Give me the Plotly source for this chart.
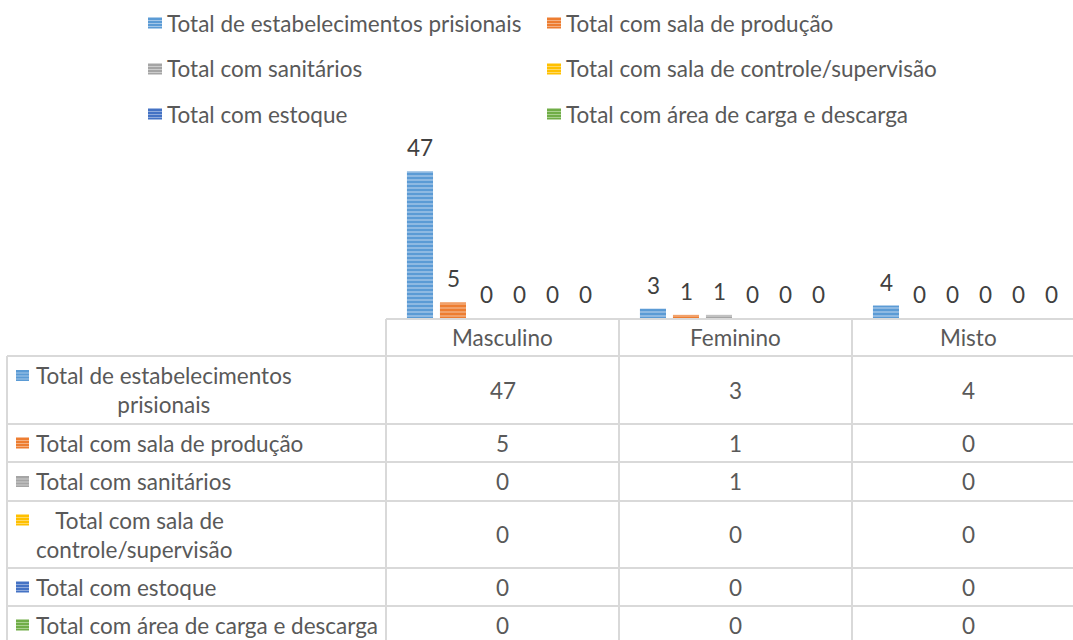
import plotly.graph_objects as go

# ---------------- data ----------------
categories = ["Masculino", "Feminino", "Misto"]
series_names = [
    "Total de estabelecimentos prisionais",
    "Total com sala de produção",
    "Total com sanitários",
    "Total com sala de controle/supervisão",
    "Total com estoque",
    "Total com área de carga e descarga",
]
table_labels = [
    "Total de estabelecimentos<br>prisionais",
    "Total com sala de produção",
    "Total com sanitários",
    "  Total com sala de<br>controle/supervisão",
    "Total com estoque",
    "Total com área de carga e descarga",
]
v_estabelecimentos = [47, 3, 4]
v_producao = [5, 1, 0]
v_sanitarios = [0, 1, 0]
v_controle = [0, 0, 0]
v_estoque = [0, 0, 0]
v_carga = [0, 0, 0]
series_values = [v_estabelecimentos, v_producao, v_sanitarios, v_controle, v_estoque, v_carga]

base_colors = ["#5B9BD5", "#ED7D31", "#A5A5A5", "#FFC000", "#4472C4", "#70AD47"]
light_colors = ["#A4C7E8", "#F4B183", "#CDCDCD", "#FFD966", "#8FAADC", "#A9D18E"]

# ---------------- layout geometry (screen pixels) ----------------
W, H = 1073, 640
PL, PR = 386, 1073          # plot area left/right
PT, PB = 162, 318           # plot area top/bottom
CAT_W = 233
PW, PH = PR - PL, PB - PT
FONT = "Lato"
TXT = "#595959"
NUM = "#404040"
GRID = "#D9D9D9"
FS = 22.5


def px(xp):
    return (xp - PL) / PW


def py(yp):
    return (PB - yp) / PH


fig = go.Figure()
for i, (name, vals) in enumerate(zip(series_names, series_values)):
    fig.add_trace(go.Bar(
        name=name, x=categories, y=vals,
        marker=dict(
            color=base_colors[i], line=dict(width=0),
            pattern=dict(shape="-", fillmode="replace", bgcolor=base_colors[i],
                         fgcolor=light_colors[i], size=4, solidity=0.35),
        ),
        showlegend=False, hoverinfo="skip",
    ))

annotations = []
shapes = []

# value labels above bars
step = 33
for i, vals in enumerate(series_values):
    for c, v in zip(categories, vals):
        annotations.append(dict(
            x=c, y=v, xref="x", yref="y", text=str(v), showarrow=False,
            xshift=(i - 2.5) * step, yshift=8, yanchor="bottom",
            font=dict(family=FONT, size=FS, color=NUM),
        ))

# ---------------- legend (manual, 2 columns) ----------------
leg_cols_x = [148, 547]
leg_rows_y = [23, 69, 114]
for i, name in enumerate(series_names):
    col, row = i % 2, i // 2
    x0, yc = leg_cols_x[col], leg_rows_y[row]
    shapes.append(dict(type="rect", xref="paper", yref="paper",
                       x0=px(x0), x1=px(x0 + 14), y0=py(yc + 5.5), y1=py(yc - 5.5),
                       fillcolor=base_colors[i], line=dict(width=0)))
    for k in (-2.5, 0.5, 3.5):
        shapes.append(dict(type="line", xref="paper", yref="paper",
                           x0=px(x0), x1=px(x0 + 14), y0=py(yc + k), y1=py(yc + k),
                           line=dict(color=light_colors[i], width=1)))
    annotations.append(dict(
        x=px(x0 + 17), y=py(yc), xref="paper", yref="paper", text=name,
        showarrow=False, xanchor="left", yanchor="middle",
        font=dict(family=FONT, size=FS, color=TXT),
    ))

# ---------------- data table ----------------
TL = 7
header_top, header_bot = 319, 356
row_lines = [356, 424, 462, 501, 568, 606, 644]
col_lines = [PL + k * CAT_W for k in range(3)]

shapes.append(dict(type="line", xref="paper", yref="paper", x0=px(PL), x1=px(PR),
                    y0=py(header_top), y1=py(header_top), line=dict(color=GRID, width=2)))
for yl in row_lines:
    shapes.append(dict(type="line", xref="paper", yref="paper", x0=px(TL), x1=px(PR),
                       y0=py(yl), y1=py(yl), line=dict(color=GRID, width=2)))
shapes.append(dict(type="line", xref="paper", yref="paper", x0=px(TL), x1=px(TL),
                   y0=py(header_bot), y1=py(H + 5), line=dict(color=GRID, width=2)))
for xl in col_lines:
    shapes.append(dict(type="line", xref="paper", yref="paper", x0=px(xl), x1=px(xl),
                       y0=py(header_top), y1=py(H + 5), line=dict(color=GRID, width=2)))

# header category names
for c in categories:
    annotations.append(dict(
        x=c, y=py((header_top + header_bot) / 2), xref="x", yref="paper", text=c,
        showarrow=False, yanchor="middle",
        font=dict(family=FONT, size=FS, color=TXT),
    ))

# rows
for i, (lab, vals) in enumerate(zip(table_labels, series_values)):
    y0, y1 = row_lines[i], row_lines[i + 1]
    yc = (y0 + y1) / 2
    two = "<br>" in lab
    icon_y = yc - 14.5 if two else yc
    shapes.append(dict(type="rect", xref="paper", yref="paper",
                       x0=px(16), x1=px(29), y0=py(icon_y + 5.5), y1=py(icon_y - 5.5),
                       fillcolor=base_colors[i], line=dict(width=0)))
    for k in (-2.5, 0.5, 3.5):
        shapes.append(dict(type="line", xref="paper", yref="paper",
                           x0=px(16), x1=px(29), y0=py(icon_y + k), y1=py(icon_y + k),
                           line=dict(color=light_colors[i], width=1)))
    annotations.append(dict(
        x=px(34), y=py(yc), xref="paper", yref="paper", text=lab,
        showarrow=False, xanchor="left", yanchor="middle", align="center",
        font=dict(family=FONT, size=FS, color=TXT),
    ))
    for c, v in zip(categories, vals):
        annotations.append(dict(
            x=c, y=py(yc), xref="x", yref="paper", text=str(v),
            showarrow=False, yanchor="middle",
            font=dict(family=FONT, size=FS, color=TXT),
        ))

fig.update_layout(
    width=W, height=H,
    margin=dict(l=PL, r=W - PR, t=PT, b=H - PB, pad=0),
    paper_bgcolor="white", plot_bgcolor="white",
    barmode="group", bargap=0.15, bargroupgap=0.21,
    xaxis=dict(type="category", range=[-0.5, -0.5 + PW / CAT_W],
               showticklabels=False, showgrid=False, zeroline=False, showline=False,
               fixedrange=True),
    yaxis=dict(range=[0, 50], showticklabels=False, showgrid=False, zeroline=False,
               showline=False, fixedrange=True),
    annotations=annotations, shapes=shapes,
    font=dict(family=FONT, size=FS, color=TXT),
    showlegend=False,
)

fig.write_html(
    "out.html",
    config={"displayModeBar": False},
    post_script="document.body.style.margin='0';document.body.style.overflow='hidden';",
)
